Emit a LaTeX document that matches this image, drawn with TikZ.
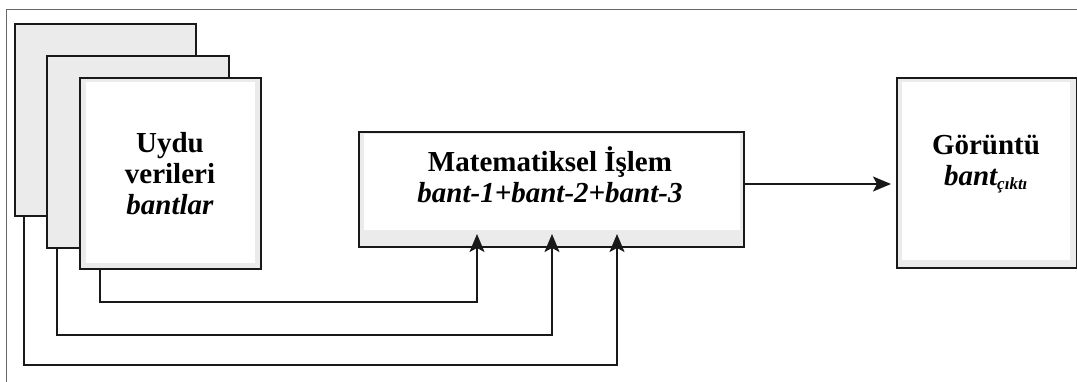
\documentclass[tikz,border=0pt]{standalone}
\usepackage{fontspec}
\setmainfont{Liberation Serif}
\usetikzlibrary{arrows.meta,calc}
\definecolor{band}{HTML}{EBEBEB}
\begin{document}
\begin{tikzpicture}[x=1pt,y=-1pt,
  panel/.style={draw=black!90,line width=1.8pt,fill=band,anchor=north west,inner sep=0pt},
  wire/.style={draw=black!90,line width=1.7pt},
  tip/.style={-{Stealth[length=18pt,width=15pt,inset=4pt]}},
  caption/.style={font=\fontsize{29}{31}\selectfont\bfseries,align=center,inner sep=0pt}]
\useasboundingbox (0,0) rectangle (1077,381);
% thin outer frame
\begin{scope}
  \clip (0,0) rectangle (1077,381);
  \draw[black!60,line width=1pt] (6,9) rectangle (1090,395);
\end{scope}
% stack of satellite band sheets
\node[panel,minimum width=181pt,minimum height=192pt] (b1) at (14,23) {};
\node[panel,minimum width=182pt,minimum height=192pt] (b2) at (46,55) {};
\node[panel,minimum width=181pt,minimum height=191pt] (b3) at (79,77) {};
\fill[white] ([xshift=7pt,yshift=-5pt]b3.north west) rectangle ([xshift=-7pt,yshift=7pt]b3.south east);
\node[caption] (t3) at (170,174) {Uydu\\verileri\\\textit{bantlar}};
% processing block
\node[panel,minimum width=385pt,minimum height=115pt] (m) at (358,131) {};
\fill[white] ([xshift=6pt,yshift=-3pt]m.north west) rectangle ([xshift=-5pt,yshift=18pt]m.south east);
\node[caption] (tm) at (550,175) {Matematiksel İşlem\\\textit{bant-1+bant-2+bant-3}};
% output block
\node[panel,minimum width=180pt,minimum height=190pt] (r) at (896,77) {};
\fill[white] ([xshift=6pt,yshift=-5pt]r.north west) rectangle ([xshift=-8pt,yshift=9pt]r.south east);
\node[caption] (tr) at (986,164) {Görüntü\\\textit{bant\textsubscript{\fontsize{17}{17}\selectfont çıktı}}};
% band connectors
\coordinate (e1) at (477,234);
\coordinate (e2) at (552,234);
\coordinate (e3) at (617,234);
\draw[wire,tip] (b3.south west -| 100,0) |- (e1 |- 0,302) -- (e1);
\draw[wire,tip] (b2.south west -| 57,0) |- (e2 |- 0,335) -- (e2);
\draw[wire,tip] (b1.south west -| 24,0) |- (e3 |- 0,365) -- (e3);
% result arrow
\draw[wire,tip] (m.east |- 0,184) -- ([xshift=-5pt]r.west |- 0,184);
\end{tikzpicture}
\end{document}
